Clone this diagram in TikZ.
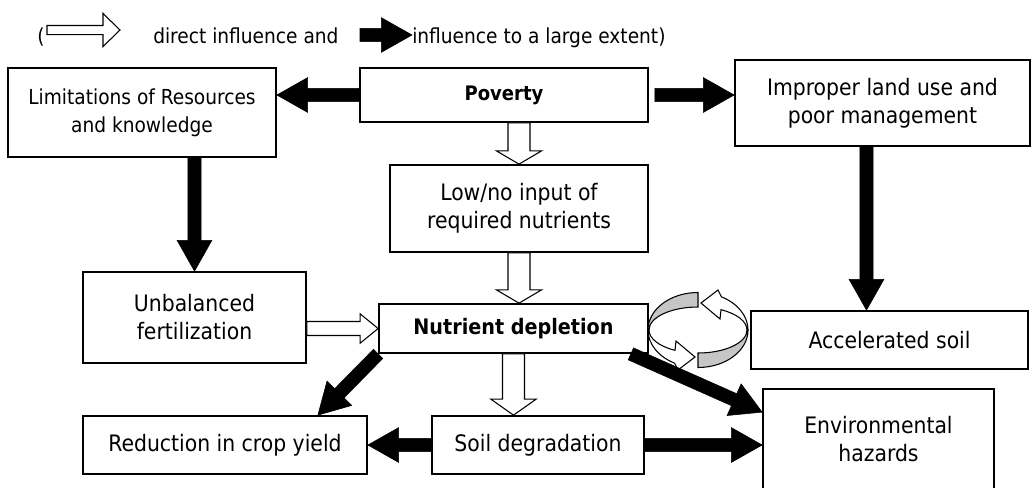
\documentclass[tikz,border=0pt]{standalone}
\usepackage{fontspec}
\setmainfont{DejaVu Sans Condensed}
\usetikzlibrary{calc}

\tikzset{
  blockarrow/.style args={#1/#2/#3}{to path={
      ($(\tikztostart)!#1!90:(\tikztotarget)$)
      -- ($(\tikztotarget)!#3!(\tikztostart)!#1!270:(\tikztostart)$)
      -- ($(\tikztotarget)!#3!(\tikztostart)!#2!270:(\tikztostart)$)
      -- (\tikztotarget)
      -- ($(\tikztotarget)!#3!(\tikztostart)!#2!90:(\tikztostart)$)
      -- ($(\tikztotarget)!#3!(\tikztostart)!#1!90:(\tikztostart)$)
      -- ($(\tikztostart)!#1!270:(\tikztotarget)$) -- cycle}},
  bigarrow/.style={blockarrow=4.9pt/13pt/23pt, fill=black},
  openarrow/.style={blockarrow=#1, fill=white, draw=black, line width=0.8pt},
  openarrow/.default=8.25pt/17pt/10pt,
  box/.style={draw, line width=1.3pt, align=center, inner sep=2pt},
  smalltext/.style={font=\fontsize{15.5}{21}\selectfont},
  legendtext/.style={smalltext, anchor=base west, inner sep=0pt}
}

\begin{document}
\begin{tikzpicture}[x=0.75pt,y=-0.75pt,font=\fontsize{17}{21}\selectfont]
  \clip (0,0) rectangle (1031,487);

  % Legend
  \node[legendtext] (lparen) at (37,43) {(};
  \coordinate (ostart) at (47,30);
  \coordinate (oend) at (120,30);
  \draw[openarrow=3.4pt/12.4pt/12.75pt] (ostart) to (oend);
  \node[legendtext] (ltext) at (153,43) {direct influence and};
  \coordinate (bstart) at (360,35);
  \coordinate (bend) at (412,35);
  \draw[bigarrow] (bstart) to (bend);
  \node[legendtext] (rtext) at (412,43) {influence to a large extent)};

  % Boxes
  \node[box, smalltext, minimum width=201pt, minimum height=66.75pt] (limit) at (142,112.5) {Limitations of Resources\\and knowledge};
  \node[box, minimum width=216pt, minimum height=40.5pt, font=\fontsize{15}{21}\selectfont] (pov) at (504,95) {\textbf{Poverty}};
  \node[box, minimum width=221.25pt, minimum height=64.5pt] (improper) at (882.5,103) {Improper land use and\\poor management};
  \node[box, minimum width=193.5pt, minimum height=65.25pt] (lowin) at (519,208.5) {Low/no input of\\required nutrients};
  \node[box, minimum width=167.25pt, minimum height=68.25pt] (unbal) at (194.5,317.5) {Unbalanced\\fertilization};
  \node[box, minimum width=201.75pt, minimum height=36.75pt, font=\fontsize{16}{21}\selectfont] (nutr) at (513.5,328.5) {\textbf{Nutrient depletion}};
  \node[box, minimum width=207.75pt, minimum height=43.5pt] (accel) at (889.5,340) {Accelerated soil};
  \node[box, minimum width=213pt, minimum height=43.5pt] (reduc) at (225,445) {Reduction in crop yield};
  \node[box, minimum width=159pt, minimum height=43.5pt] (soil) at (538,445) {Soil degradation};
  \node[box, minimum width=173.25pt, minimum height=75pt] (env) at (878.5,439) {Environmental\\hazards};

  % Cycle symbol
  \begin{scope}[shift={(698,330)}, y=0.75pt, line width=0.8pt]
    \draw[fill=gray!45] (-50,0) arc[start angle=180, end angle=90, x radius=50, y radius=37.5]
      -- (0,23) arc[start angle=90, end angle=180, x radius=49, y radius=23] -- cycle;
    \draw[fill=gray!45] (0,-37.5) arc[start angle=270, end angle=360, x radius=50, y radius=37.5]
      -- (49,0) arc[start angle=0, end angle=-90, x radius=49, y radius=23] -- cycle;
    \draw[fill=white] (50,0) arc[start angle=0, end angle=62, x radius=50, y radius=37.5]
      -- (20,40) -- (3,27) -- (22,11) -- (23,20.3)
      arc[start angle=62, end angle=0, x radius=49, y radius=23] -- cycle;
    \draw[fill=white] (-50,0) arc[start angle=180, end angle=242, x radius=50, y radius=37.5]
      -- (-20,-40) -- (-3,-27) -- (-22,-11) -- (-23,-20.3)
      arc[start angle=242, end angle=180, x radius=49, y radius=23] -- cycle;
  \end{scope}

  % Connectors
  \draw[bigarrow] (pov.west) to (pov.west -| limit.east);
  \coordinate (povr) at ([xshift=4.5pt]pov.east);
  \draw[bigarrow] (povr) to (povr -| improper.west);
  \draw[openarrow] (lowin.north |- pov.south) to (lowin.north);
  \draw[openarrow] (lowin.south) to (lowin.south |- nutr.north);
  \draw[bigarrow] (unbal.north |- limit.south) to (unbal.north);
  \coordinate (impbot) at ([xshift=-12pt]improper.south);
  \draw[bigarrow] (impbot) to (impbot |- accel.north);
  \draw[openarrow=5.25pt/11pt/13.5pt] (unbal.east |- nutr.west) to (nutr.west);
  \draw[openarrow=8.25pt/17pt/12pt] (nutr.south) to (nutr.south |- soil.north);
  \draw[bigarrow] (soil.west) to (reduc.east);
  \draw[bigarrow] (soil.east) to (soil.east -| env.west);
  \coordinate (redtop) at ($(reduc.north)!0.65!(reduc.north east)$);
  \draw[bigarrow] (nutr.south west) to (redtop);
  \coordinate (nutrcorner) at ([xshift=-13.5pt]nutr.south east);
  \coordinate (envside) at ([yshift=-18pt]env.north west);
  \draw[bigarrow] (nutrcorner) to (envside);
\end{tikzpicture}
\end{document}
